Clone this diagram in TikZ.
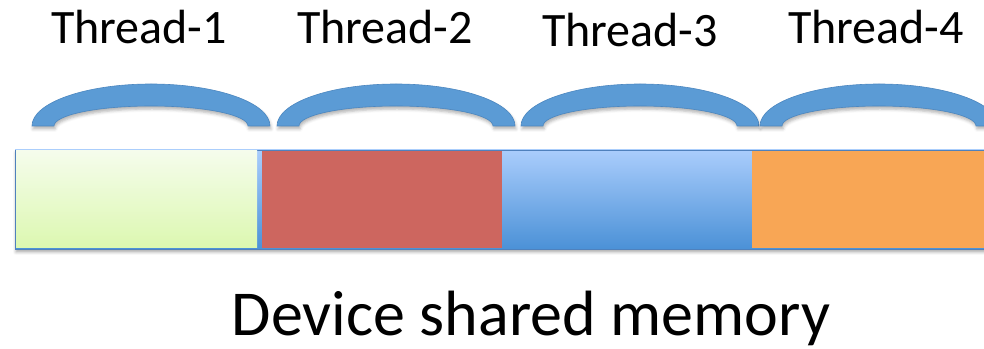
\documentclass[tikz,border=0pt]{standalone}
\usepackage{fontspec}
\setmainfont{Carlito}
\usetikzlibrary{shadows.blur}

\definecolor{arcblue}{RGB}{91,155,213}
\definecolor{arcedge}{RGB}{76,135,192}
\definecolor{baredge}{RGB}{79,129,189}
\definecolor{greentop}{RGB}{245,252,236}
\definecolor{greenbot}{RGB}{220,248,176}
\definecolor{blocked}{RGB}{205,102,95}
\definecolor{bluetop}{RGB}{170,205,252}
\definecolor{bluebot}{RGB}{75,145,215}
\definecolor{blockorange}{RGB}{248,166,85}

\tikzset{
  threadlabel/.style={font=\fontsize{48}{56}\selectfont, anchor=base, inner sep=0pt},
  bridge/.style={fill=arcblue, draw=arcedge, line width=0.6pt,
    blur shadow={shadow xshift=1pt, shadow yshift=-3pt, shadow blur radius=3pt, shadow opacity=30}},
}

% one arc spanning a thread's block, centred at #1
\newcommand{\threadarc}[1]{%
  \path[bridge] (#1-119,222) arc[start angle=180, end angle=0, x radius=119pt, y radius=42pt]
    -- (#1+97,222) arc[start angle=0, end angle=180, x radius=97pt, y radius=20pt] -- cycle;}

\begin{document}
\begin{tikzpicture}[x=1pt, y=1pt]
  \useasboundingbox (0,0) rectangle (984,348);

  % thread labels
  \node[threadlabel] (t1) at (139,304) {Thread-1};
  \node[threadlabel] (t2) at (385,304) {Thread-2};
  \node[threadlabel] (t3) at (630,301) {Thread-3};
  \node[threadlabel] (t4) at (876,304) {Thread-4};

  % arcs above the memory blocks
  \threadarc{151}
  \threadarc{396}
  \threadarc{640}
  \threadarc{879}

  % memory bar
  \shade[top color=bluetop, bottom color=bluebot, draw=baredge, line width=0.8pt,
    blur shadow={shadow xshift=1pt, shadow yshift=-3pt, shadow blur radius=3pt, shadow opacity=35}]
    (15,99) rectangle (995,198);
  \shade[top color=greentop, bottom color=greenbot] (16,100) rectangle (257,197);
  \fill[blocked] (262,100) rectangle (502,197);
  \fill[blockorange] (752,100) rectangle (995,197);

  % caption
  \node[font=\fontsize{64}{72}\selectfont, anchor=base, inner sep=0pt] (cap) at (531,13) {Device shared memory};
\end{tikzpicture}
\end{document}
